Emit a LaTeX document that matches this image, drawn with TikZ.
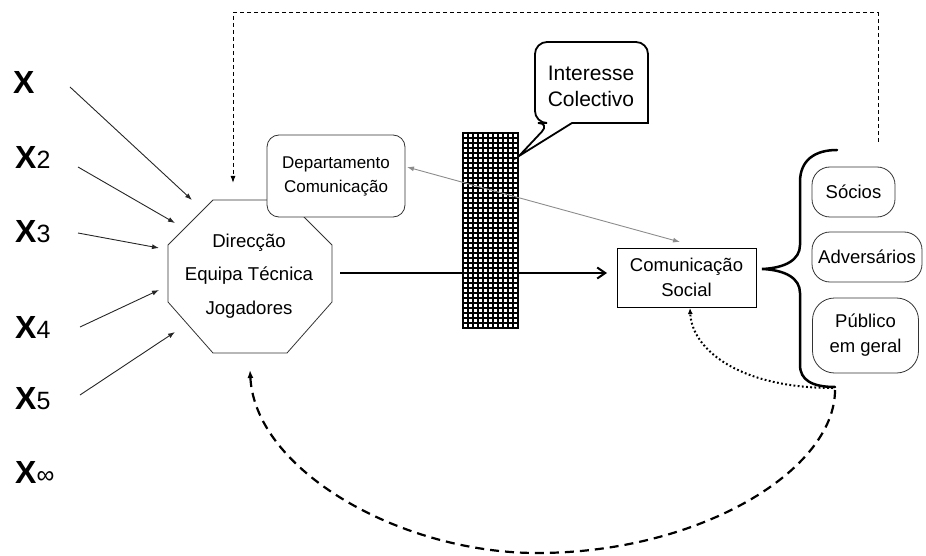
\documentclass[tikz,border=0pt]{standalone}
\usepackage{fontspec}
\setmainfont{Liberation Sans}
\usetikzlibrary{arrows.meta}

\newcommand\xsubscript[1]{{\mdseries\fontsize{25}{25}\selectfont #1}}

\begin{document}
\begin{tikzpicture}[x=1pt,y=-1pt,
  every node/.style={inner sep=0pt, align=center},
  xlab/.style={anchor=base west, font=\fontsize{32}{32}\selectfont\bfseries},
  xarrow/.style={line width=0.9pt, draw=black!85, -{Latex[length=7pt,width=5pt]}},
  outline/.style={line width=0.8pt, draw=black!80},
  octtext/.style={font=\fontsize{18.6}{33.5}\selectfont},
  deptbox/.style={outline, fill=white, rounded corners=12pt, minimum width=138pt, minimum height=82pt,
    font=\fontsize{17}{24}\selectfont},
  csbox/.style={line width=1pt, draw=black, minimum width=139pt, minimum height=59pt,
    font=\fontsize{18.5}{25}\selectfont},
  pill/.style={outline, rounded corners=18pt, font=\fontsize{18.5}{25}\selectfont},
  calloutline/.style={line width=1.8pt, draw=black, fill=white},
  callouttext/.style={font=\fontsize{21}{26}\selectfont},
  gridline/.style={line width=2pt, draw=black},
  mainarrow/.style={line width=2pt, -{Straight Barb[length=8pt,width=11pt]}},
  grayarrow/.style={line width=0.9pt, draw=black!45, {Latex[length=7pt,width=5pt]}-{Latex[length=7pt,width=5pt]}},
  bracepath/.style={line width=2.5pt, line cap=round},
  topdash/.style={line width=1pt, dash pattern=on 4pt off 3pt, -{Latex[length=7pt,width=5pt]}},
  bigdash/.style={line width=2.2pt, dash pattern=on 9pt off 6pt, -{Latex[length=8pt,width=6pt]}},
  dotline/.style={line width=2pt, dash pattern=on 1.8pt off 2.4pt, -{Latex[length=6pt,width=5pt]}}
]
\useasboundingbox (0,0) rectangle (926,556);

% input labels on the left
\node[xlab] (x1) at (13,93.5) {X};
\node[xlab] (x2) at (15,168.5) {X\xsubscript{2}};
\node[xlab] (x3) at (15,243) {X\xsubscript{3}};
\node[xlab] (x4) at (15,338) {X\xsubscript{4}};
\node[xlab] (x5) at (15,409) {X\xsubscript{5}};
\node[xlab] (x6) at (15,483) {X\xsubscript{∞}};

\coordinate (a1) at (70,87);   \coordinate (b1) at (192,200);
\coordinate (a2) at (78,167);  \coordinate (b2) at (175,223);
\coordinate (a3) at (78,233);  \coordinate (b3) at (159,248);
\coordinate (a4) at (80,327);  \coordinate (b4) at (159,290);
\coordinate (a5) at (80,395);  \coordinate (b5) at (175,332);
\draw[xarrow] (a1) -- (b1);
\draw[xarrow] (a2) -- (b2);
\draw[xarrow] (a3) -- (b3);
\draw[xarrow] (a4) -- (b4);
\draw[xarrow] (a5) -- (b5);

% octagon with the club's core
\draw[outline] (213,200) -- (287,200) -- (332,245) -- (332,302) -- (287,353)
  -- (213,353) -- (168,302) -- (168,245) -- cycle;
\node[octtext] (oct) at (249,276) {Direcção\\Equipa Técnica\\Jogadores};

% communication department, overlapping the octagon
\node[deptbox] (dept) at (336,176) {Departamento\\Comunicação};

% barrier grid, lines on whole units so they stay crisp
\foreach \i in {0,...,11}
  \draw[gridline] ({463+\i*5},133) -- ({463+\i*5},328);
\foreach \j in {0,...,39}
  \draw[gridline] (462,{133+\j*5}) -- (519,{133+\j*5});

% speech bubble
\draw[calloutline] (535,100) [rounded corners=12pt] -- (535,123) -- (550,123) [sharp corners]
  -- (519,156) -- (572,123) -- (648,123) [rounded corners=12pt] -- (648,42) -- (535,42) -- cycle;
\node[callouttext] (ic) at (591,86) {Interesse\\Colectivo};

% media box
\node[csbox] (cs) at (686.5,277.5) {Comunicação\\Social};

% audiences
\node[pill, minimum width=83pt, minimum height=50pt] (soc) at (853.5,192) {Sócios};
\node[pill, minimum width=110pt, minimum height=50pt] (adv) at (867,257) {Adversários};
\node[pill, rounded corners=22pt, minimum width=106pt, minimum height=75pt] (pub) at (865.5,335.5) {Público\\em geral};

% brace grouping the audiences
\coordinate (bt) at (837,150);
\coordinate (bm) at (762,269);
\coordinate (bb) at (835,387);
\draw[bracepath] (bt) .. controls (815,150) and (800,160) .. (800,182) -- (800,245)
  .. controls (800,260) and (785,268) .. (bm)
  .. controls (785,270) and (800,278) .. (800,293) -- (800,365)
  .. controls (800,380) and (812,387) .. (bb);

% flows
\coordinate (m1) at (340,273);
\coordinate (m2) at (607,273);
\draw[mainarrow] (m1) -- (m2);

\coordinate (g1) at (407,167);
\coordinate (g2) at (680,242);
\draw[grayarrow] (g1) -- (g2);

\coordinate (t0) at (878,142);
\coordinate (t1) at (233,183);
\draw[topdash] (t0) -- (878,13) -- (233,13) -- (t1);

\coordinate (d0) at (835,390);
\coordinate (d1) at (250,370);
\draw[bigdash] (d0) .. controls (835,470) and (700,553) .. (537,553)
  .. controls (400,553) and (255,470) .. (d1);

\coordinate (p0) at (833,388);
\coordinate (p1) at (690,308);
\draw[dotline] (p0) .. controls (740,388) and (692,350) .. (p1);
\end{tikzpicture}
\end{document}
